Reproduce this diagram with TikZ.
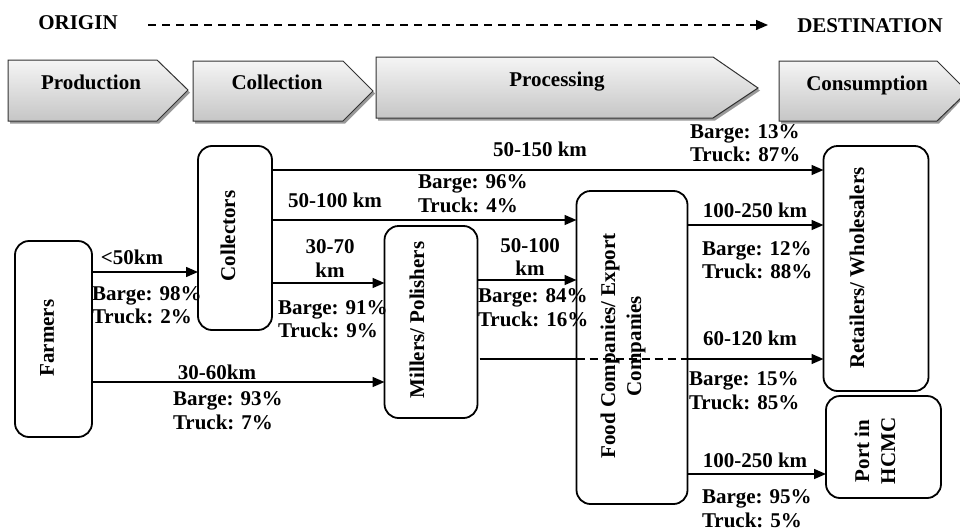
\documentclass[tikz,border=0pt]{standalone}
\usepackage{fontspec}
\setmainfont{Liberation Serif}
\usetikzlibrary{arrows.meta}
\begin{document}
\begin{tikzpicture}[x=1pt,y=-1pt,
  every node/.style={font=\fontsize{21}{23.5}\selectfont\bfseries, inner sep=0pt, outer sep=0pt},
  box/.style={draw, line width=1.8pt, rounded corners=14pt, inner sep=0pt},
  vtext/.style={rotate=90, align=center, font=\fontsize{21}{26}\selectfont\bfseries},
  flow/.style={line width=1.5pt, -{Triangle[length=12pt,width=10pt]}},
  plain/.style={line width=1.5pt},
  pct/.style={align=left, anchor=west},
  stagefill/.style={top color=gray!8, bottom color=gray!45, draw=black!80, line width=1pt},
  shadowfill/.style={fill=black!40},
  stagetext/.style={anchor=base}
]
\useasboundingbox (0,0) rectangle (960,530);

% ---- top origin/destination
\node (origin) at (78,23) {ORIGIN};
\node (dest) at (870,26) {DESTINATION};
\coordinate (dstart) at (148,25);
\coordinate (dend) at (768,25);
\draw[line width=1.3pt, dash pattern=on 8pt off 6pt, -{Triangle[length=12pt,width=10pt]}] (dstart) -- (dend);

% ---- stage chevrons
\fill[shadowfill] (10,62.5) -- (159,62.5) -- (190,92.5) -- (159,123.5) -- (10,123.5) -- cycle;
\shade[stagefill] (8,60) -- (157,60) -- (188,90) -- (157,121) -- (8,121) -- cycle;
\fill[shadowfill] (195,63.5) -- (345,63.5) -- (375,93.5) -- (345,123.5) -- (195,123.5) -- cycle;
\shade[stagefill] (193,61) -- (343,61) -- (373,91) -- (343,121) -- (193,121) -- cycle;
\fill[shadowfill] (378,59.5) -- (715,59.5) -- (760,90.5) -- (715,120.5) -- (378,120.5) -- cycle;
\shade[stagefill] (376,57) -- (713,57) -- (758,88) -- (713,118) -- (376,118) -- cycle;
\fill[shadowfill] (781,63.5) -- (939,63.5) -- (962,86.5) -- (962,99.5) -- (939,123.5) -- (781,123.5) -- cycle;
\shade[stagefill] (779,61) -- (937,61) -- (962,86) -- (962,97) -- (937,121) -- (779,121) -- cycle;

\node[stagetext] (sprod) at (91,89) {Production};
\node[stagetext] (scoll) at (277,89) {Collection};
\node[stagetext] (sproc) at (557,86) {Processing};
\node[stagetext] (scons) at (867,90) {Consumption};

% ---- actor boxes
\node[box, minimum width=77, minimum height=196] (farmers) at (53.5,339) {};
\node[box, minimum width=74, minimum height=184] (collectors) at (235,238) {};
\node[box, minimum width=93, minimum height=192] (millers) at (431,322) {};
\node[box, minimum width=111, minimum height=313] (food) at (632,347.5) {};
\node[box, minimum width=105, minimum height=245] (retail) at (876,268.5) {};
\node[box, minimum width=115, minimum height=102] (port) at (883.5,447) {};

\node[vtext] (tfarmers) at (47,338) {Farmers};
\node[vtext] (tcollectors) at (228,236) {Collectors};
\node[vtext] (tmillers) at (417,320) {Millers/ Polishers};
\node[vtext] (tfood) at (623,346) {Food Companies/ Export\\Companies};
\node[vtext] (tretail) at (857,268) {Retailers/ Wholesalers};
\node[vtext] (tport) at (875,451) {Port in\\HCMC};

% ---- flows
% Farmers -> Collectors
\draw[flow] (farmers.east |- 0,272) -- (collectors.west |- 0,272);
\node (l1) at (132,257) {<50km};
\node[pct] (p1) at (92,305) {Barge: 98\%\\Truck: 2\%};

% Farmers -> Millers
\draw[flow] (farmers.east |- 0,382) -- (millers.west |- 0,382);
\node (l2) at (217,372) {30-60km};
\node[pct] (p2) at (173,410.5) {Barge: 93\%\\Truck: 7\%};

% Collectors -> Millers
\draw[flow] (collectors.east |- 0,283) -- (millers.west |- 0,283);
\node[align=center] (l3) at (330,258.5) {30-70\\km};
\node[pct] (p3) at (278,319) {Barge: 91\%\\Truck: 9\%};

% Collectors -> Food
\draw[flow] (collectors.east |- 0,220) -- (food.west |- 0,220);
\node (l4) at (335,200) {50-100 km};
\node[pct] (p4) at (418,193.5) {Barge: 96\%\\Truck: 4\%};

% Collectors -> Retailers
\draw[flow] (collectors.east |- 0,170) -- (retail.west |- 0,170);
\node (l5) at (540,149) {50-150 km};
\node[pct] (p5) at (690,143) {Barge: 13\%\\Truck: 87\%};

% Millers -> Food
\draw[flow] (millers.east |- 0,280) -- (food.west |- 0,280);
\node[align=center] (l6) at (530,257) {50-100\\km};
\node[pct] (p6) at (478,307.5) {Barge: 84\%\\Truck: 16\%};

% Millers -> Retailers (passing the food companies)
\draw[plain] ([xshift=2pt]millers.east |- 0,359) -- (food.west |- 0,359);
\draw[plain, dash pattern=on 8pt off 5pt] (food.west |- 0,359) -- (food.east |- 0,359);
\draw[flow] (food.east |- 0,359) -- (retail.west |- 0,359);
\node (l7) at (750,338) {60-120 km};
\node[pct] (p7) at (689,390.5) {Barge: 15\%\\Truck: 85\%};

% Food -> Retailers
\draw[flow] (food.east |- 0,225) -- (retail.west |- 0,225);
\node (l8) at (755,210) {100-250 km};
\node[pct] (p8) at (702,260) {Barge: 12\%\\Truck: 88\%};

% Food -> Port
\draw[flow] (food.east |- 0,474) -- (port.west |- 0,474);
\node (l9) at (755,460) {100-250 km};
\node[pct] (p9) at (702,508.5) {Barge: 95\%\\Truck: 5\%};

\end{tikzpicture}
\end{document}
